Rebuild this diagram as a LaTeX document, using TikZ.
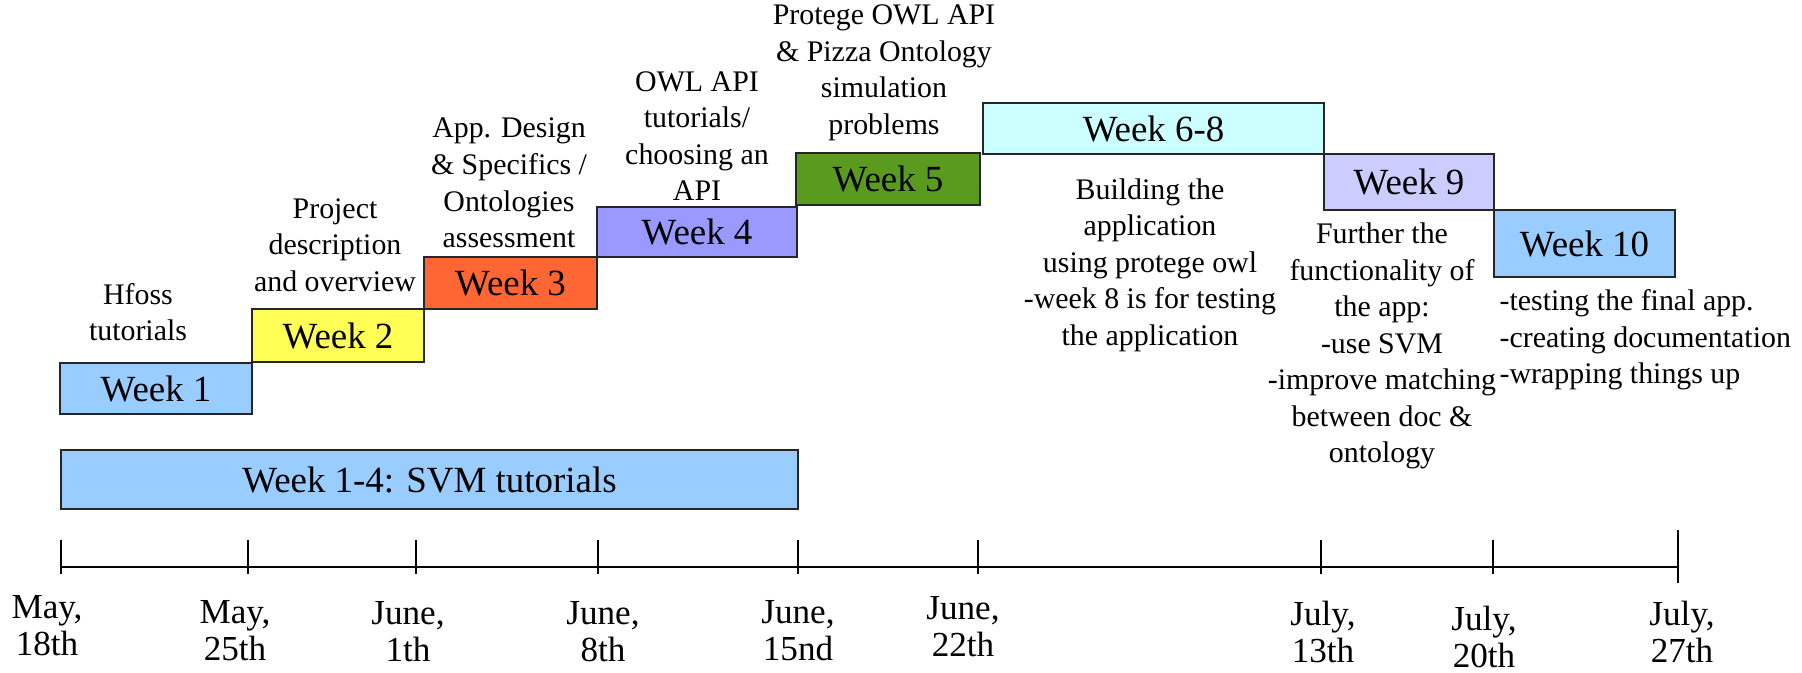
\documentclass[tikz,border=0pt]{standalone}
\usepackage{fontspec}
\setmainfont{Liberation Serif}
\usepackage{tikz}
\usetikzlibrary{positioning}

\definecolor{wkblue}{HTML}{99CCFF}
\definecolor{wkyellow}{HTML}{FFFF55}
\definecolor{wkorange}{HTML}{FF6633}
\definecolor{wkviolet}{HTML}{9999FF}
\definecolor{wkgreen}{HTML}{5A9B1F}
\definecolor{wkcyan}{HTML}{CCFFFF}
\definecolor{wklilac}{HTML}{CCCCFF}

\tikzset{
  weekbox/.style={draw=black!85, line width=0.7pt, inner sep=0pt, font=\fontsize{10.5}{12}\selectfont},
  notetext/.style={align=center, inner sep=0pt, font=\fontsize{8.5}{10.4}\selectfont},
  datetext/.style={align=center, inner sep=0pt, font=\fontsize{10}{10.5}\selectfont},
}

\begin{document}
\begin{tikzpicture}
    \useasboundingbox (0,0) rectangle (18.02,6.72);

    \node[weekbox, fill=wkblue, minimum width=1.92cm, minimum height=0.51cm] (w1) at (1.56,2.835) {Week 1};
    \node[weekbox, fill=wkyellow, minimum width=1.72cm, minimum height=0.53cm] (w2) at (3.38,3.365) {Week 2};
    \node[weekbox, fill=wkorange, minimum width=1.73cm, minimum height=0.52cm] (w3) at (5.105,3.89) {Week 3};
    \node[weekbox, fill=wkviolet, minimum width=2.00cm, minimum height=0.50cm] (w4) at (6.97,4.40) {Week 4};
    \node[weekbox, fill=wkgreen, minimum width=1.84cm, minimum height=0.52cm] (w5) at (8.88,4.93) {Week 5};
    \node[weekbox, fill=wkcyan, minimum width=3.41cm, minimum height=0.51cm] (w68) at (11.535,5.435) {Week 6-8};
    \node[weekbox, fill=wklilac, minimum width=1.70cm, minimum height=0.56cm] (w9) at (14.09,4.90) {Week 9};
    \node[weekbox, fill=wkblue, minimum width=1.81cm, minimum height=0.67cm] (w10) at (15.845,4.285) {Week 10};
    \node[weekbox, fill=wkblue, minimum width=7.37cm, minimum height=0.59cm] (svm) at (4.295,1.925) {Week 1-4: SVM tutorials};

    \node[notetext] (hfoss) at (1.38,3.60) {Hfoss\\tutorials};
    \node[notetext] (proj) at (3.35,4.27) {Project\\description\\and overview};
    \node[notetext] (appd) at (5.09,4.89) {App. Design\\\& Specifics /\\Ontologies\\assessment};
    \node[notetext] (owl) at (6.97,5.36) {OWL API\\tutorials/\\choosing an\\API};
    \node[notetext] (prot) at (8.84,5.99) {Protege OWL API\\\& Pizza Ontology\\simulation\\problems};
    \node[notetext] (build) at (11.50,4.07) {Building the\\application\\using protege owl\\-week 8 is for testing\\the application};
    \node[notetext] (furth) at (13.82,3.26) {Further the\\functionality of\\the app:\\-use SVM\\-improve matching\\between doc \&\\ontology};
    \node[notetext, align=left, anchor=west] (final) at (14.99,3.32) {-testing the final app.\\-creating documentation\\-wrapping things up};

    \foreach \name/\x in {t0/0.61, t1/2.48, t2/4.16, t3/5.98, t4/7.98, t5/9.78, t6/13.21, t7/14.93, t8/16.78}
        \coordinate (\name) at (\x,1.05);
    \draw[line width=0.8pt] (t0) -- (t8);
    \foreach \i in {0,...,7}
        \draw[line width=0.6pt] ([yshift=-0.07cm]t\i) -- ([yshift=0.27cm]t\i);
    \draw[line width=0.6pt] ([yshift=-0.16cm]t8) -- ([yshift=0.37cm]t8);

    \node[datetext] (d0) at (0.47,0.46) {May,\\18th};
    \node[datetext] (d1) at (2.35,0.41) {May,\\25th};
    \node[datetext] (d2) at (4.08,0.40) {June,\\1th};
    \node[datetext] (d3) at (6.03,0.40) {June,\\8th};
    \node[datetext] (d4) at (7.98,0.41) {June,\\15nd};
    \node[datetext] (d5) at (9.63,0.45) {June,\\22th};
    \node[datetext] (d6) at (13.23,0.40) {July,\\13th};
    \node[datetext] (d7) at (14.84,0.35) {July,\\20th};
    \node[datetext] (d8) at (16.82,0.40) {July,\\27th};
\end{tikzpicture}
\end{document}
